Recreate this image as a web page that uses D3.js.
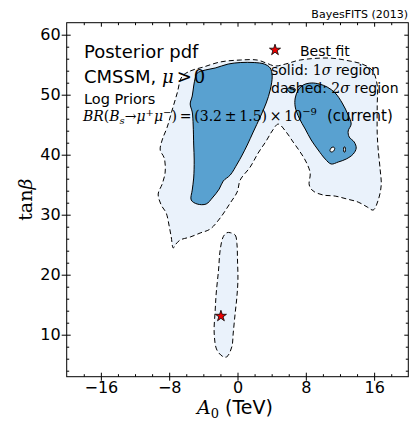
<!DOCTYPE html>
<html>
<head>
<meta charset="utf-8">
<script src="https://cdn.jsdelivr.net/npm/d3@7"></script>
<style>
  body { margin: 0; background: #fff; }
  svg { display: block; }
  text { font-family: "DejaVu Sans", sans-serif; fill: #000; }
  .math { font-family: "DejaVu Serif", serif; }
</style>
</head>
<body>
<svg width="416" height="422"></svg>
<script>
// axis ticks
const xMajor = [-16, -8, 0, 8, 16];
const xMinor = [-18, -14, -12, -10, -6, -4, -2, 2, 4, 6, 10, 12, 14, 18];
const yMajor = [10, 20, 30, 40, 50, 60];
const yMinor = [4, 6, 8, 12, 14, 16, 18, 22, 24, 26, 28, 32, 34, 36, 38, 42, 44, 46, 48, 52, 54, 56, 58];

// best fit point [A0, tanb]
const bestFit = [-1.94, 13.1];

// 2 sigma contours [A0 (TeV), tanb]
const sigma2Main = [
  [-6.51, 53.0], [-5.54, 53.95], [-4.02, 54.6], [-2.03, 55.45], [0.32, 55.78], [2.31, 55.78],
  [3.36, 55.28], [4.41, 54.78], [5.59, 55.1], [7.34, 55.78], [10.85, 56.1], [13.19, 55.6],
  [14.6, 55.1], [15.77, 54.1], [16.36, 51.6], [16.36, 48.28], [16.36, 43.6], [16.48, 40.78],
  [16.71, 37.45], [16.83, 34.95], [16.48, 32.45], [15.89, 30.78], [15.19, 31.28], [14.13, 32.1],
  [12.85, 32.6], [11.44, 33.1], [10.04, 33.28], [8.86, 33.95], [8.4, 34.95], [8.51, 36.95],
  [8.04, 38.78], [7.34, 40.45], [6.52, 42.1], [5.7, 43.78], [4.77, 45.1], [4.06, 43.95],
  [3.36, 42.28], [2.42, 40.28], [1.49, 37.95], [0.32, 35.78], [-0.04, 33.78], [-0.85, 31.95],
  [-2.03, 29.45], [-3.2, 27.61], [-4.37, 26.95], [-5.54, 26.28], [-6.71, 25.78], [-7.3, 24.95],
  [-7.53, 24.45], [-7.76, 26.28], [-8.0, 28.11], [-8.35, 30.28], [-8.93, 31.61], [-9.29, 33.45],
  [-8.82, 35.11], [-8.47, 37.11], [-8.58, 39.45], [-9.05, 40.78], [-8.82, 42.45], [-8.23, 44.61],
  [-7.65, 47.45], [-7.06, 50.28]
];
const sigma2Low = [
  [-0.85, 27.0], [-0.27, 26.61], [-0.07, 25.23], [0, 22.45], [0.05, 19.11], [-0.07, 16.33],
  [-0.27, 13.61], [-0.5, 10.28], [-0.66, 8.0], [-1.24, 6.33], [-1.67, 6.33], [-2.41, 7.45],
  [-2.73, 10.28], [-2.61, 14.11], [-2.49, 16.95], [-2.22, 20.78], [-2.03, 24.11], [-1.67, 26.33],
  [-1.24, 27.0]
];

// 1 sigma contours
const sigma1Left = [
  [-4.72, 53.61], [-3.78, 54.11], [-2.61, 54.45], [-1.09, 55.11], [0.32, 55.36], [1.96, 55.36],
  [3.13, 55.11], [3.83, 54.45], [4.06, 53.11], [3.83, 50.78], [3.36, 48.61], [2.66, 46.28],
  [1.84, 43.78], [1.14, 41.61], [0.55, 39.95], [-0.04, 38.45], [-0.85, 36.61], [-1.67, 35.61],
  [-2.14, 34.28], [-2.96, 32.78], [-3.67, 31.78], [-4.72, 31.78], [-5.42, 32.45], [-5.3, 34.11],
  [-5.13, 36.11], [-5.07, 39.11], [-5.13, 41.61], [-5.19, 44.95], [-5.3, 47.11], [-5.54, 48.45],
  [-5.3, 49.78], [-5.13, 51.45], [-4.95, 52.78]
];
const sigma1Right = [
  [7.69, 51.61], [8.63, 51.95], [9.57, 51.78], [10.5, 51.28], [11.44, 50.28], [12.26, 48.61],
  [12.96, 46.61], [13.31, 45.11], [12.96, 43.95], [13.08, 42.95], [13.67, 42.11], [13.9, 41.11],
  [13.55, 40.11], [12.73, 39.28], [11.79, 38.78], [10.97, 38.45], [10.27, 39.28], [9.45, 40.78],
  [8.63, 42.45], [7.93, 44.28], [7.22, 46.11], [6.76, 47.95], [6.76, 49.45], [7.11, 50.78]
];
const sigma1Small = [[5.82, 50.95], [6.29, 51.2], [6.76, 50.95], [6.64, 50.45], [6.17, 50.36]];
const holes = [
  [[10.83, 40.61], [10.95, 41.11], [11.21, 41.28], [11.38, 41.11], [11.26, 40.61], [10.97, 40.45]],
  [[12.47, 41.28], [12.59, 41.28], [12.59, 40.45], [12.47, 40.45]]
];

const svg = d3.select('svg');
const x = d3.scaleLinear().domain([-20, 20]).range([66.7, 408.3]);
const y = d3.scaleLinear().domain([3, 62]).range([376.7, 22.7]);

const shape = d3.line()
  .x(d => x(d[0]))
  .y(d => y(d[1]))
  .curve(d3.curveCatmullRomClosed.alpha(0.5));

const plot = svg.append('g');

// fills
plot.selectAll('.s2').data([sigma2Main, sigma2Low]).join('path')
  .attr('d', shape).attr('fill', '#eaf2fb').attr('stroke', 'none');
plot.selectAll('.s1').data([sigma1Left, sigma1Right, sigma1Small]).join('path')
  .attr('d', shape).attr('fill', '#59a1d0').attr('stroke', '#000').attr('stroke-width', 1);
plot.selectAll('.hole').data(holes).join('path')
  .attr('d', shape).attr('fill', '#fff').attr('stroke', '#000').attr('stroke-width', 1);
// dashed 2 sigma outlines
plot.selectAll('.s2line').data([sigma2Main, sigma2Low]).join('path')
  .attr('d', shape).attr('fill', 'none').attr('stroke', '#000').attr('stroke-width', 1)
  .attr('stroke-dasharray', '5,3');

// best fit star
const star = d3.symbol(d3.symbolStar).size(38);
plot.append('path')
  .attr('d', star())
  .attr('transform', `translate(${x(bestFit[0])},${y(bestFit[1])})`)
  .attr('fill', '#e00').attr('stroke', '#000').attr('stroke-width', 0.8);

// axes
function styleAxis(g) {
  g.select('.domain').remove();
  g.selectAll('line').attr('stroke', '#000');
  g.selectAll('text').attr('font-size', 16).attr('fill', '#000')
    .attr('font-family', '"DejaVu Sans", sans-serif');
}
const x0 = x.range()[0], x1 = x.range()[1], y0 = y.range()[0], y1 = y.range()[1];

svg.append('g').attr('transform', `translate(0,${y0})`)
  .call(d3.axisBottom(x).tickValues(xMajor).tickSize(4).tickPadding(1)).call(styleAxis);
svg.append('g').attr('transform', `translate(0,${y0})`)
  .call(d3.axisTop(x).tickValues(xMajor).tickSize(4).tickFormat('')).call(styleAxis);
svg.append('g').attr('transform', `translate(0,${y0})`)
  .call(d3.axisTop(x).tickValues(xMinor).tickSize(2.5).tickFormat('')).call(styleAxis);
svg.append('g').attr('transform', `translate(0,${y1})`)
  .call(d3.axisBottom(x).tickValues(xMajor).tickSize(4).tickFormat('')).call(styleAxis);
svg.append('g').attr('transform', `translate(0,${y1})`)
  .call(d3.axisBottom(x).tickValues(xMinor).tickSize(2.5).tickFormat('')).call(styleAxis);

svg.append('g').attr('transform', `translate(${x0},0)`)
  .call(d3.axisLeft(y).tickValues(yMajor).tickSize(5).tickPadding(1)).call(styleAxis);
svg.append('g').attr('transform', `translate(${x0},0)`)
  .call(d3.axisRight(y).tickValues(yMajor).tickSize(4).tickFormat('')).call(styleAxis);
svg.append('g').attr('transform', `translate(${x0},0)`)
  .call(d3.axisRight(y).tickValues(yMinor).tickSize(2.5).tickFormat('')).call(styleAxis);
svg.append('g').attr('transform', `translate(${x1},0)`)
  .call(d3.axisLeft(y).tickValues(yMajor).tickSize(4).tickFormat('')).call(styleAxis);
svg.append('g').attr('transform', `translate(${x1},0)`)
  .call(d3.axisLeft(y).tickValues(yMinor).tickSize(2.5).tickFormat('')).call(styleAxis);

svg.append('rect')
  .attr('x', x0).attr('y', y1).attr('width', x1 - x0).attr('height', y0 - y1)
  .attr('fill', 'none').attr('stroke', '#000').attr('stroke-width', 1);

// axis labels
const xl = svg.append('text').attr('x', 235).attr('y', 414).attr('text-anchor', 'middle').attr('font-size', 19);
xl.append('tspan').attr('class', 'math').attr('font-style', 'italic').text('A');
xl.append('tspan').attr('class', 'math').attr('font-size', 13).attr('dy', 4).text('0');
xl.append('tspan').attr('dy', -4).text(' (TeV)');

const yl = svg.append('text').attr('class', 'math').attr('font-size', 19)
  .attr('text-anchor', 'middle')
  .attr('transform', `translate(32,${(y0 + y1) / 2}) rotate(-90)`);
yl.append('tspan').text('tan');
yl.append('tspan').attr('font-style', 'italic').text('β');

// top right credit
svg.append('text').attr('x', 408).attr('y', 18).attr('text-anchor', 'end')
  .attr('font-size', 11).text('BayesFITS (2013)');

// annotation block
svg.append('text').attr('x', 84).attr('y', 58).attr('font-size', 18).text('Posterior pdf');
const cm = svg.append('text').attr('x', 84).attr('y', 83).attr('font-size', 18);
cm.append('tspan').text('CMSSM, ');
cm.append('tspan').attr('class', 'math').attr('font-style', 'italic').text('μ');
cm.append('tspan').attr('class', 'math').attr('dx', 3).text('>');
cm.append('tspan').attr('class', 'math').attr('dx', 2).text('0');
svg.append('text').attr('x', 84).attr('y', 104).attr('font-size', 14.5).text('Log Priors');

const th = '\u2009';
const br = svg.append('text').attr('x', 83).attr('y', 121).attr('font-size', 14);
const it = (s) => br.append('tspan').attr('class', 'math').attr('font-style', 'italic').text(s);
const rm = (s) => br.append('tspan').attr('class', 'math').text(s);
it('BR');
rm('(');
it('B');
br.append('tspan').attr('class', 'math').attr('font-style', 'italic').attr('font-size', 10).attr('dy', 3).text('s');
br.append('tspan').attr('class', 'math').attr('dy', -3).text('→');
it('μ');
br.append('tspan').attr('class', 'math').attr('font-size', 10).attr('dy', -5).text('+');
br.append('tspan').attr('class', 'math').attr('font-style', 'italic').attr('dy', 5).text('μ');
br.append('tspan').attr('class', 'math').attr('font-size', 10).attr('dy', -5).text('−');
br.append('tspan').attr('class', 'math').attr('dy', 5)
  .text(')' + th + '=' + th + '(3.2' + th + '±' + th + '1.5)' + th + '×' + th + '10');
br.append('tspan').attr('class', 'math').attr('font-size', 10).attr('dy', -6).text('−9');
svg.append('text').attr('x', 327).attr('y', 121).attr('font-size', 15).text('(current)');

// legend
svg.append('path').attr('d', star())
  .attr('transform', 'translate(275,50)')
  .attr('fill', '#e00').attr('stroke', '#000').attr('stroke-width', 0.8);
svg.append('text').attr('x', 300).attr('y', 56).attr('font-size', 14).text('Best fit');
const l1 = svg.append('text').attr('x', 271).attr('y', 75).attr('font-size', 14);
l1.append('tspan').text('solid: ');
l1.append('tspan').attr('class', 'math').text('1');
l1.append('tspan').attr('class', 'math').attr('font-style', 'italic').text('σ');
l1.append('tspan').text(' region');
const l2 = svg.append('text').attr('x', 271).attr('y', 93).attr('font-size', 14);
l2.append('tspan').text('dashed: ');
l2.append('tspan').attr('class', 'math').text('2');
l2.append('tspan').attr('class', 'math').attr('font-style', 'italic').text('σ');
l2.append('tspan').text(' region');
</script>
</body>
</html>
